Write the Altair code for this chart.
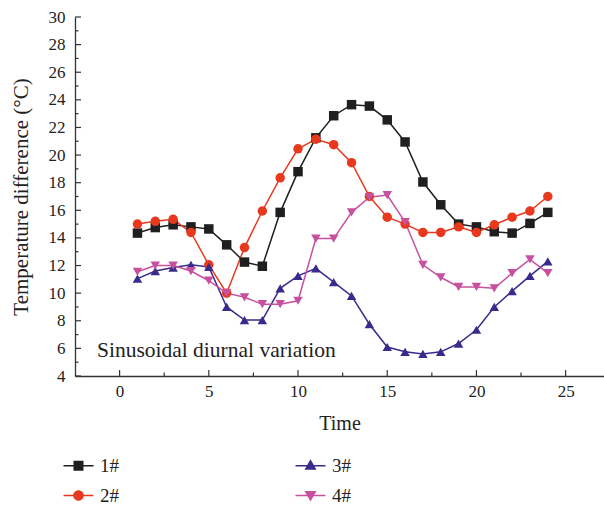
import altair as alt
import pandas as pd

# ---- data ----
hours = list(range(1, 25))
series_names = ["1#", "2#", "3#", "4#"]
s1 = [14.35, 14.75, 14.95, 14.8, 14.65, 13.5, 12.25, 11.95, 15.85, 18.8, 21.25, 22.85,
      23.65, 23.55, 22.55, 20.95, 18.05, 16.4, 15.0, 14.8, 14.45, 14.35, 15.05, 15.85]
s2 = [15.0, 15.2, 15.35, 14.4, 12.05, 10.0, 13.3, 15.95, 18.35, 20.45, 21.15, 20.75,
      19.45, 17.0, 15.5, 15.0, 14.4, 14.4, 14.8, 14.4, 14.95, 15.5, 15.95, 17.0]
s3 = [11.05, 11.6, 11.85, 12.05, 11.9, 9.0, 8.05, 8.05, 10.35, 11.25, 11.8, 10.8,
      9.8, 7.75, 6.1, 5.75, 5.6, 5.75, 6.35, 7.35, 9.0, 10.15, 11.25, 12.3]
s4 = [11.55, 12.0, 12.0, 11.6, 10.9, 10.0, 9.7, 9.2, 9.2, 9.45, 13.95, 13.95,
      15.85, 16.95, 17.1, 15.15, 12.05, 11.15, 10.45, 10.45, 10.35, 11.45, 12.45, 11.45]
colors = ["#1f1f1f", "#e8391e", "#3a2a8c", "#c7509f"]
shapes = ["square", "circle", "triangle-up", "triangle-down"]

# legend symbols: a thin horizontal bar (the line) plus the marker, as filled paths
legend_paths = [
    "M-3,-0.15H3V0.15H-3Z M-1,-1H1V1H-1Z",
    "M-3,-0.15H3V0.15H-3Z M1.05,0A1.05,1.05,0,1,1,-1.05,0A1.05,1.05,0,1,1,1.05,0Z",
    "M-3,-0.15H3V0.15H-3Z M0,-1.3L1.2,0.8H-1.2Z",
    "M-3,-0.15H3V0.15H-3Z M-1.2,-0.9H1.2L0,1.2Z",
]

x_major = [0, 5, 10, 15, 20, 25]
x_minor = [2.5, 7.5, 12.5, 17.5, 22.5]
y_major = list(range(4, 31, 2))
y_minor = list(range(5, 30, 2))

annotation = ["Sinusoidal diurnal variation"]

FONT = "Liberation Serif"
W, H = 529, 359

rows = []
for name, vals in zip(series_names, [s1, s2, s3, s4]):
    for h, v in zip(hours, vals):
        rows.append({"hour": h, "value": v, "series": name})
df = pd.DataFrame(rows)

xscale = alt.Scale(domain=[-2.5, 27.15], nice=False, zero=False)
yscale = alt.Scale(domain=[4, 30], nice=False, zero=False)

x_axis = alt.Axis(title="Time", values=x_major, ticks=False, grid=False,
                  labelOverlap=False, labelFont=FONT, labelFontSize=17, labelColor="#222",
                  labelPadding=7, titleFont=FONT, titleFontSize=20,
                  titleFontWeight="normal", titleColor="#222", titlePadding=14,
                  domainColor="#333", domainWidth=1.3)
y_axis = alt.Axis(title="Temperature difference (°C)", values=y_major, ticks=False,
                  grid=False, labelOverlap=False, labelFont=FONT, labelFontSize=17,
                  labelColor="#222", labelPadding=10, titleFont=FONT, titleFontSize=21,
                  titleFontWeight="normal", titleColor="#222", titlePadding=17,
                  domainColor="#333", domainWidth=1.3)


def X(field):
    return alt.X(field, scale=xscale, axis=x_axis)


def Y(field):
    return alt.Y(field, scale=yscale, axis=y_axis)


base = alt.Chart(df)
layers = []
for name, col, shp in zip(series_names, colors, shapes):
    sub = base.transform_filter(alt.datum.series == name)
    layers.append(sub.mark_line(strokeWidth=1.5, color=col).encode(x=X("hour:Q"), y=Y("value:Q")))
for name, col, shp in zip(series_names, colors, shapes):
    sub = base.transform_filter(alt.datum.series == name)
    layers.append(sub.mark_point(filled=True, opacity=1, size=90, shape=shp, color=col).encode(
        x=X("hour:Q"), y=Y("value:Q")))

# legend (Vega fills columns first: 1#, 2# | 3#, 4#)
leg = alt.Legend(title=None, orient="none", legendX=-6, legendY=439, columns=2,
                 columnPadding=173, rowPadding=10, symbolSize=100,
                 labelFont=FONT, labelFontSize=19, labelColor="#222", labelOffset=12,
                 symbolOpacity=1)
legend_layer = base.transform_filter("false").mark_point(filled=True, opacity=1).encode(
    x=X("hour:Q"), y=Y("value:Q"),
    color=alt.Color("series:N", scale=alt.Scale(domain=series_names, range=colors), legend=leg),
    shape=alt.Shape("series:N", scale=alt.Scale(domain=series_names, range=legend_paths), legend=leg),
)
layers.append(legend_layer)

# inward tick marks
rule_style = dict(color="#333", strokeWidth=1.2)
layers.append(alt.Chart(pd.DataFrame({"t": x_major})).mark_rule(**rule_style).encode(
    x=X("t:Q"), y=alt.value(H), y2=alt.value(H - 6)))
layers.append(alt.Chart(pd.DataFrame({"t": x_minor})).mark_rule(**rule_style).encode(
    x=X("t:Q"), y=alt.value(H), y2=alt.value(H - 3.5)))
layers.append(alt.Chart(pd.DataFrame({"t": y_major})).mark_rule(**rule_style).encode(
    y=Y("t:Q"), x=alt.value(0), x2=alt.value(6)))
layers.append(alt.Chart(pd.DataFrame({"t": y_minor})).mark_rule(**rule_style).encode(
    y=Y("t:Q"), x=alt.value(0), x2=alt.value(3.5)))

layers.append(alt.Chart(pd.DataFrame({"label": annotation, "x": [-1.27], "y": [5.4]})).mark_text(
    align="left", baseline="alphabetic", font=FONT, fontSize=21.5, color="#222").encode(
    x=X("x:Q"), y=Y("y:Q"), text="label:N"))

chart = alt.layer(*layers).properties(
    width=W, height=H,
    padding={"left": 75, "top": 17, "right": 0, "bottom": 130},
    autosize=alt.AutoSizeParams(type="none"),
).configure_view(stroke=None).configure_axis(
    labelFont=FONT, labelFontSize=17, titleFont=FONT
)

chart.save("out.html", embed_options={"renderer": "svg", "actions": False})
